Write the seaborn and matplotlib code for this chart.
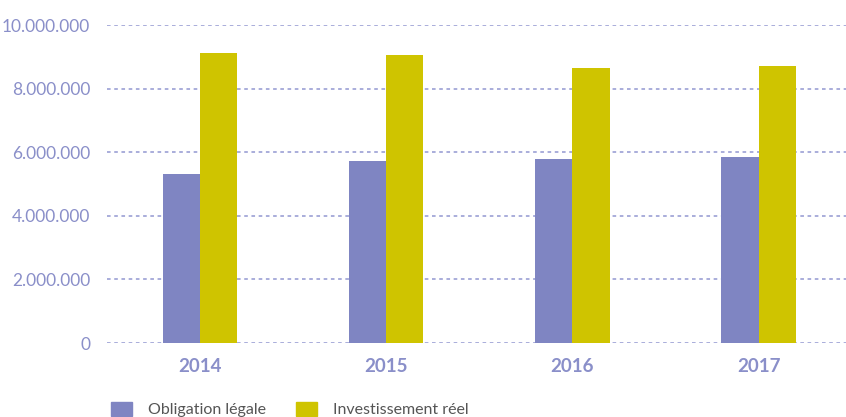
import matplotlib
matplotlib.use('Agg')
import matplotlib.pyplot as plt
import matplotlib.ticker as mticker
import pandas as pd
import seaborn as sns

# data
years = ['2014', '2015', '2016', '2017']
obligation = [5310000, 5720000, 5790000, 5850000]
investissement = [9120000, 9060000, 8650000, 8710000]
series = ['Obligation légale', 'Investissement réel']
colors = ['#7f85c2', '#cfc400']

df = pd.DataFrame({
    'annee': years * 2,
    'valeur': obligation + investissement,
    'serie': [series[0]] * 4 + [series[1]] * 4,
})

sns.set_style('white')
plt.rcParams['font.family'] = ['Lato', 'DejaVu Sans']
txt = '#8a8fc9'

fig = plt.figure(figsize=(8.46, 4.17), dpi=100)
ax = fig.add_axes([107 / 846, 74 / 417, 739 / 846, 318 / 417])

sns.barplot(data=df, x='annee', y='valeur', hue='serie', palette=colors,
            width=0.4, saturation=1, linewidth=0, ax=ax, legend=False)

ax.set_ylim(0, 10000000)
ax.set_xlim(-0.5, 3.47)
ax.yaxis.set_major_locator(mticker.MultipleLocator(2000000))
ax.yaxis.set_major_formatter(mticker.FuncFormatter(lambda v, p: f'{int(v):,}'.replace(',', '.')))
ax.grid(axis='y', color='#a3a7d8', linestyle=(0, (2, 2)), linewidth=1.3)
ax.set_axisbelow(True)
for s in ax.spines.values():
    s.set_visible(False)
ax.set_xlabel('')
ax.set_ylabel('')
ax.tick_params(axis='y', length=0, pad=12, labelsize=12.5, labelcolor=txt)
ax.tick_params(axis='x', length=0, pad=11, labelsize=13.5, labelcolor=txt)
for lbl in ax.get_xticklabels():
    lbl.set_fontweight('bold')

handles = [plt.Rectangle((0, 0), 1, 1, color=c) for c in colors]
fig.legend(handles, series, loc='lower left', bbox_to_anchor=(97 / 846, -0.035),
           ncol=2, frameon=False, fontsize=11.5, handlelength=1.3, handleheight=1.0,
           columnspacing=1.9, handletextpad=1.0, labelcolor='#555555')

fig.savefig('out.png', dpi=100)
